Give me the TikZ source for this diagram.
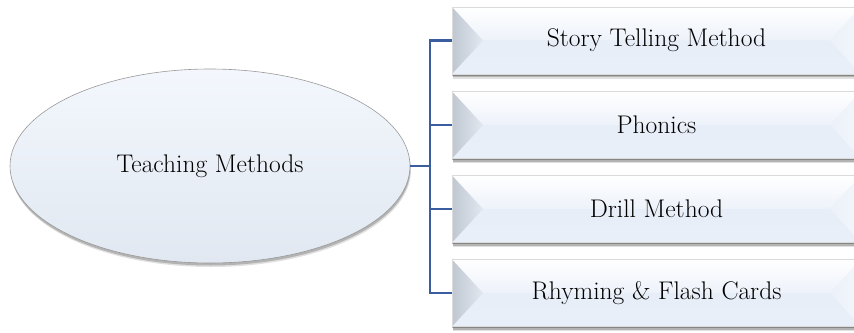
\documentclass[tikz,border=0pt]{standalone}
\usetikzlibrary{calc,shapes.geometric,shadows}
\definecolor{linkblue}{HTML}{3A5DA0}
\definecolor{boxmid}{HTML}{EDF2FA}
\definecolor{boxmidb}{HTML}{E8EEF8}
\definecolor{boxbot}{HTML}{E9EFF8}
\definecolor{bevdark}{HTML}{BFC7D1}
\definecolor{bevlight}{HTML}{E2E8F0}
\definecolor{bevRa}{HTML}{F3F7FC}
\definecolor{bevRb}{HTML}{EBF1F9}
\definecolor{elltop}{HTML}{F3F7FD}
\definecolor{ellmid}{HTML}{E9F0F9}
\definecolor{ellbot}{HTML}{E1E8F1}
\tikzset{
  bevel/.style={rectangle, minimum width=409pt, minimum height=67pt, inner sep=0pt,
    text=black, font=\fontsize{25.5}{30}\selectfont, fill=boxbot, draw=black!14, line width=0.4pt,
    drop shadow={shadow xshift=0.5pt, shadow yshift=-4.5pt, opacity=0.12, fill=black},
    drop shadow={shadow xshift=0.5pt, shadow yshift=-3pt, opacity=0.2, fill=black},
    drop shadow={shadow xshift=0.3pt, shadow yshift=-1.5pt, opacity=0.25, fill=black},
    path picture={
      \coordinate (nw) at (path picture bounding box.north west);
      \coordinate (ne) at (path picture bounding box.north east);
      \coordinate (sw) at (path picture bounding box.south west);
      \coordinate (se) at (path picture bounding box.south east);
      \coordinate (wa) at ($(path picture bounding box.west)+(31,0)$);
      \coordinate (ea) at ($(path picture bounding box.east)+(-31,0)$);
      \shade[top color=white, bottom color=boxmid] (nw) -- (ne) -- (ea) -- (wa) -- cycle;
      \shade[top color=boxmidb, bottom color=boxbot] (wa) -- (ea) -- (se) -- (sw) -- cycle;
      \shade[left color=bevdark, right color=bevlight] (nw) -- (wa) -- (sw) -- cycle;
      \shade[left color=bevRb, right color=bevRa] (ne) -- (ea) -- (se) -- cycle;
      \draw[black!30, line width=1pt] (nw) -- (sw);
    }},
  oval/.style={ellipse, minimum width=400pt, minimum height=194pt, inner sep=0pt,
    draw=black!40, line width=0.6pt, top color=elltop, middle color=ellmid, bottom color=ellbot,
    text=black, font=\fontsize{25.5}{30}\selectfont,
    drop shadow={shadow xshift=1pt, shadow yshift=-4pt, opacity=0.12, fill=black},
    drop shadow={shadow xshift=0.5pt, shadow yshift=-2.5pt, opacity=0.2, fill=black}},
  conn/.style={draw=linkblue, line width=2.2pt, line join=miter},
}
\begin{document}
\begin{tikzpicture}[x=1pt,y=-1pt]
\useasboundingbox (0,0) rectangle (854,332);
\clip (0,0) rectangle (854,332);
\node[oval] (tm) at (210,166) {Teaching Methods};
\node[bevel] (b1) at (656.5,40.5) {Story Telling Method};
\node[bevel] (b2) at (656.5,125) {Phonics};
\node[bevel] (b3) at (656.5,209) {Drill Method};
\node[bevel] (b4) at (656.5,293) {Rhyming \& Flash Cards};
\coordinate (j) at (430,166);
\draw[conn] (tm.east) -- (j);
\draw[conn] (b1.west) -| (j) |- (b4.west);
\draw[conn] (j) |- (b2.west);
\draw[conn] (j) |- (b3.west);
\end{tikzpicture}
\end{document}
